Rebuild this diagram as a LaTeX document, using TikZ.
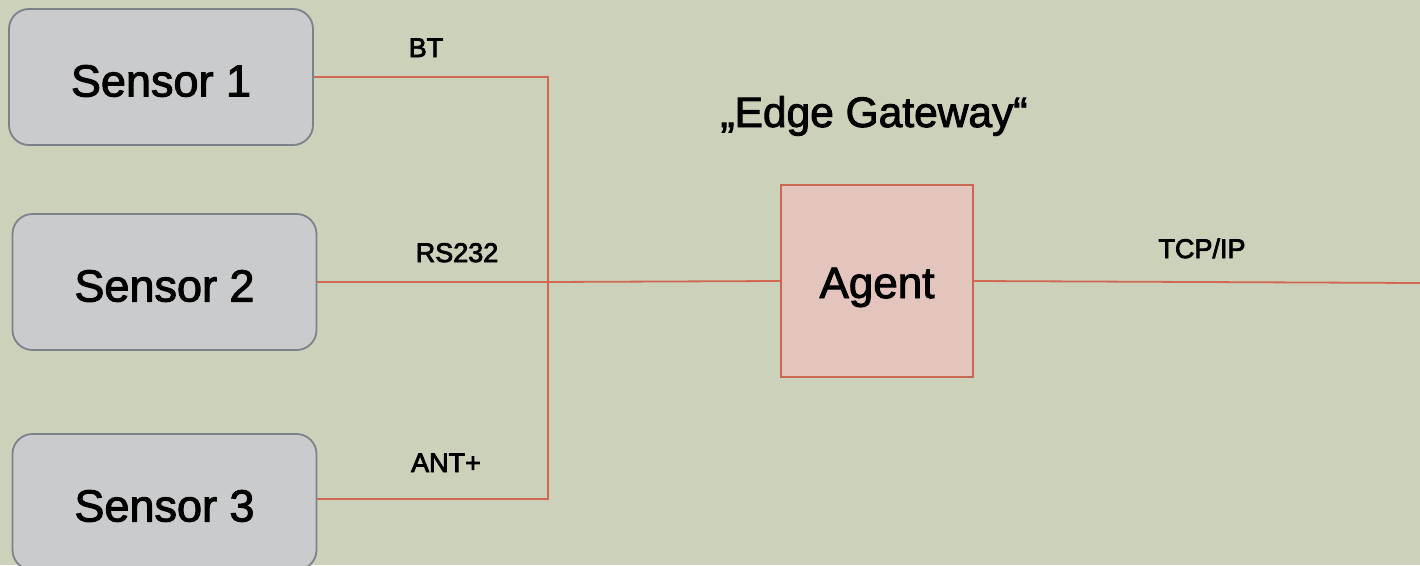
\documentclass[tikz,border=0pt]{standalone}
\usepackage{fontspec}
\setmainfont{Liberation Sans}
\newfontfamily\bigfont{Liberation Sans}[FakeBold=2.2]
\newfontfamily\labelfont{Liberation Sans}[FakeBold=3]
\definecolor{bg}{RGB}{204,210,186}
\definecolor{sensorfill}{RGB}{201,203,205}
\definecolor{sensorline}{RGB}{122,130,138}
\definecolor{agentfill}{RGB}{228,197,190}
\definecolor{agentline}{RGB}{200,104,80}
\definecolor{wire}{RGB}{208,104,82}
\begin{document}
\begin{tikzpicture}[x=1pt,y=-1pt,
  sensorbox/.style={draw=sensorline, fill=sensorfill, line width=1.8pt,
    rounded corners=20pt, minimum width=304pt, minimum height=136pt,
    inner sep=0pt, text height=39pt, text depth=0pt,
    font=\bigfont\fontsize{45}{50}\selectfont},
  agentbox/.style={draw=agentline, fill=agentfill, line width=1.8pt,
    minimum width=192pt, minimum height=192pt, inner sep=0pt,
    text height=34pt, text depth=0pt,
    font=\bigfont\fontsize{44}{50}\selectfont},
  link/.style={draw=wire, line width=1.8pt},
  linklabel/.style={anchor=base, inner sep=0pt, font=\labelfont\fontsize{27}{30}\selectfont},
  title/.style={anchor=base, inner sep=0pt, font=\bigfont\fontsize{42.5}{46}\selectfont}]
  \useasboundingbox (0,0) rectangle (1420,565);
  \clip (0,0) rectangle (1420,565);
  \fill[bg] (0,0) rectangle (1420,565);

  % sensors
  \node[sensorbox] (s1) at (161,77) {Sensor 1};
  \node[sensorbox] (s2) at (164.5,282) {Sensor 2};
  \node[sensorbox] (s3) at (164.5,502) {Sensor 3};

  % gateway agent
  \node[agentbox] (agent) at (877,281) {Agent};
  \node[title] (gw) at (874,127) {„Edge Gateway“};

  % wiring
  \coordinate (j) at (548,282);
  \coordinate (out) at (1420,283);
  \draw[link] (s1.east) -| (j);
  \draw[link] (s2.east) -- (j);
  \draw[link] ([yshift=3pt]s3.east) -| (j);
  \draw[link] (j) -- (agent.west);
  \draw[link] (agent.east) -- (out);

  % link labels
  \node[linklabel] (lbt) at (426,57) {BT};
  \node[linklabel] (lrs) at (457,262) {RS232};
  \node[linklabel] (lant) at (446,472) {ANT+};
  \node[linklabel] (ltcp) at (1202,258) {TCP/IP};
\end{tikzpicture}
\end{document}
